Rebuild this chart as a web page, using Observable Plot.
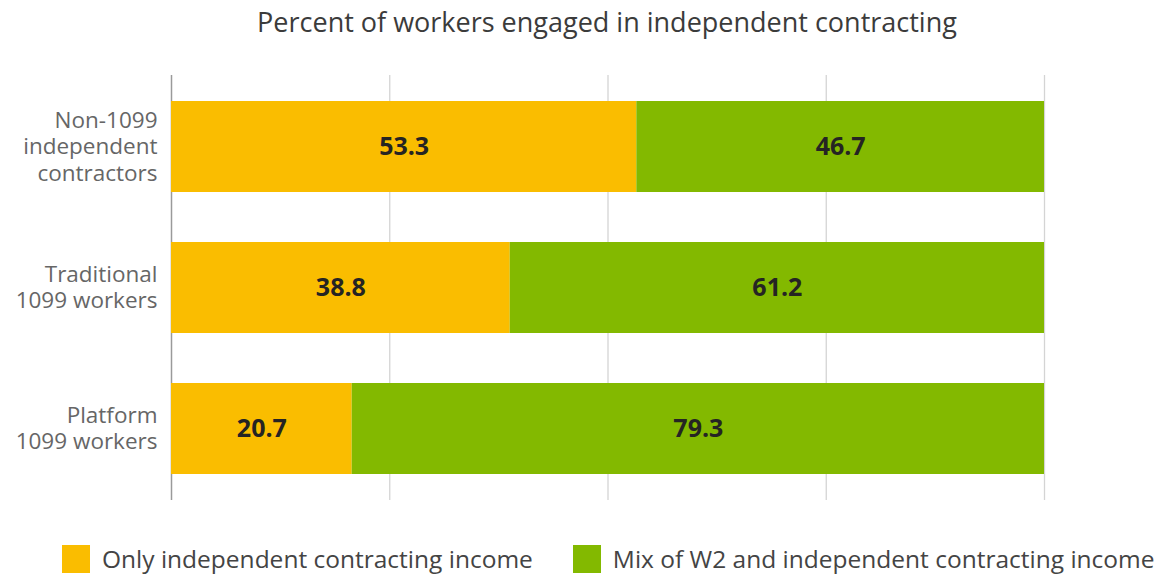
<!DOCTYPE html>
<html>
<head>
<meta charset="utf-8">
<script src="https://cdn.jsdelivr.net/npm/d3@7"></script>
<script src="https://cdn.jsdelivr.net/npm/@observablehq/plot@0.6"></script>
<style>
  html, body { margin: 0; padding: 0; background: #fff; }
  body { width: 1159px; height: 574px; position: relative; font-family: "Open Sans", "Noto Sans", sans-serif; overflow: hidden; }
  #title { position: absolute; left: 0; top: 0; width: 1214px; text-align: center; font-size: 27px; color: #3b3b3b; line-height: 44px; }
  #chart { position: absolute; left: 0; top: 50px; }
  #legend { position: absolute; left: 62px; top: 542px; display: flex; align-items: center; font-size: 24.5px; color: #444; white-space: nowrap; }
  .sw { width: 28px; height: 28px; display: inline-block; margin-right: 12px; }
  .item { display: flex; align-items: center; margin-right: 40px; }
</style>
</head>
<body>
<div id="title">Percent of workers engaged in independent contracting</div>
<div id="chart"></div>
<div id="legend"></div>
<script>
const categories = ["Non-1099 independent contractors", "Traditional 1099 workers", "Platform 1099 workers"];
const categoryLines = [["Non-1099", "independent", "contractors"], ["Traditional", "1099 workers"], ["Platform", "1099 workers"]];
const seriesNames = ["Only independent contracting income", "Mix of W2 and independent contracting income"];
const onlyIC = [53.3, 38.8, 20.7];
const mixW2 = [46.7, 61.2, 79.3];
const colors = ["#FABD00", "#83B900"];
const xTicks = [0, 25, 50, 75, 100];

const rows = [];
categories.forEach((c, i) => rows.push({cat: c, series: seriesNames[0], value: onlyIC[i]}));
categories.forEach((c, i) => rows.push({cat: c, series: seriesNames[1], value: mixW2[i]}));

const lineH = 26.5;
const labelLines = [];
categories.forEach((c, i) => {
  const ls = categoryLines[i];
  ls.forEach((t, j) => labelLines.push({cat: c, text: t, off: (j - (ls.length - 1) / 2) * lineH}));
});

const chart = Plot.plot({
  width: 1159,
  height: 460,
  marginLeft: 171,
  marginRight: 115,
  marginTop: 25,
  marginBottom: 10,
  style: {fontFamily: '"Open Sans", "Noto Sans", sans-serif', background: "#fff"},
  x: {domain: [0, 100], axis: null},
  y: {domain: categories, paddingInner: 0.357, paddingOuter: 0.18, axis: null},
  color: {domain: seriesNames, range: colors},
  marks: [
    Plot.gridX(xTicks.slice(1), {stroke: "#d4d4d4", strokeOpacity: 1, strokeWidth: 1.3}),
    Plot.ruleX([0], {stroke: "#9a9a9a", strokeWidth: 1.5}),
    Plot.barX(rows, Plot.stackX({x: "value", y: "cat", fill: "series"})),
    Plot.text(rows, Plot.stackX({x: "value", y: "cat", text: d => d.value.toFixed(1), fill: "#252423", fontSize: 25, fontWeight: "bold"})),
    ...labelLines.map(l => Plot.text([l], {y: "cat", text: "text", frameAnchor: "left", textAnchor: "end", dx: -14, dy: l.off, fontSize: 22.5, fill: "#666"}))
  ]
});
document.getElementById("chart").appendChild(chart);

const legend = document.getElementById("legend");
seriesNames.forEach((s, i) => {
  const it = document.createElement("div");
  it.className = "item";
  const sw = document.createElement("span");
  sw.className = "sw";
  sw.style.background = colors[i];
  it.appendChild(sw);
  it.appendChild(document.createTextNode(s));
  legend.appendChild(it);
});
</script>
</body>
</html>
